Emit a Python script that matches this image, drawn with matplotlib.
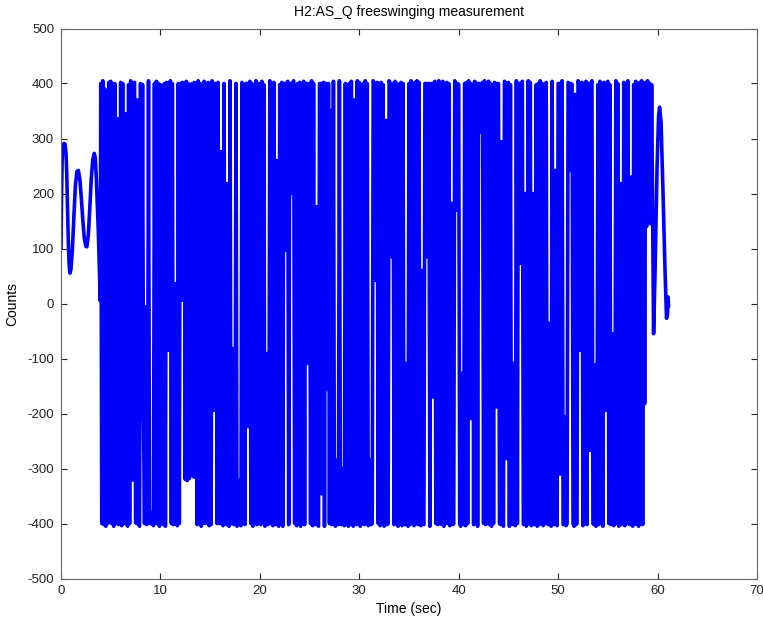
import matplotlib
matplotlib.use("Agg")
import matplotlib.pyplot as plt

plt.rcParams['path.simplify'] = False
plt.rcParams['axes.unicode_minus'] = False
plt.rcParams['font.family'] = ['Liberation Sans', 'DejaVu Sans']

# ---------------- data ----------------
title = "H2:AS_Q freeswinging measurement"
x_label = "Time (sec)"
y_label = "Counts"
x_ticks = [0, 10, 20, 30, 40, 50, 60, 70]
y_ticks = [-500, -400, -300, -200, -100, 0, 100, 200, 300, 400, 500]

# slow swinging before the fringes start (t < 4 s)
early_t = [0.0, 0.05, 0.12, 0.2, 0.3, 0.4, 0.5, 0.58, 0.66, 0.74,
           0.82, 0.9, 1.0, 1.15, 1.3, 1.45, 1.6, 1.75, 1.9, 2.05,
           2.2, 2.35, 2.5, 2.6, 2.75, 2.9, 3.05, 3.2, 3.35, 3.45,
           3.55, 3.65, 3.75, 3.85, 3.95]
early_v = [100, 190, 265, 288, 291, 290, 275, 235, 170, 110,
           70, 55, 62, 100, 160, 215, 240, 242, 225, 190,
           150, 118, 104, 103, 125, 175, 228, 262, 273, 265,
           230, 180, 133, 70, 5]

# dense fringe region: samples every 0.1 s starting at 4.0 s, one row per second
dense_start = 4.0
dense_step = 0.1
dense_04_09 = [
    [400, -400, 405, -402, 390, -405, 385, -400, 402, -398],
    [404, -400, 398, -405, 400, -400, -400, 336, -402, -400],
    [402, -404, 400, -400, -400, 345, -400, -405, 398, -400],
    [405, 400, -321, 400, 402, -398, -400, 370, -400, -405],
    [400, -209, 398, -209, -400, -6, -402, -400, 405, -400],
    [-400, -380, -400, -404, 400, -400, 404, -400, 400, -405],
]
dense_10_19 = [
    [398, -400, 385, -402, 400, -405, 402, 400, -85, 400],
    [405, -400, 400, -402, -400, 36, -400, -404, 400, -400],
    [400, 6, 402, 6, 400, -320, 404, -322, 400, -318],
    [398, -103, 400, -315, 402, -316, 400, -402, 405, -400],
    [400, -405, 398, -400, 404, -400, 400, -398, 402, -404],
    [400, -402, 405, 400, -194, 400, 398, -400, 402, -400],
    [-400, 276, -400, -404, 400, -400, -402, 218, -400, -405],
    [405, -400, -400, -82, -402, -400, 400, -405, -400, -321],
    [-400, -404, 402, -400, 398, -402, 400, 400, -224, 400],
    [404, -400, 400, -405, 395, -400, 405, -402, 400, -400],
]
dense_20_29 = [
    [400, -402, 404, -400, 398, -405, -400, -91, -402, -400],
    [405, -400, 400, -404, 402, -400, -402, 260, -400, -405],
    [398, -400, 402, -405, 400, 400, 97, 400, 404, -402],
    [400, 400, 200, 400, 405, -400, 398, -404, 400, -400],
    [402, -405, 400, -400, 404, -402, 400, 400, -109, 400],
    [398, -400, 405, -404, 400, -400, -402, 176, -400, -405],
    [400, 400, -346, 400, 402, -405, 400, 400, -155, 400],
    [-400, 351, -402, -400, 404, -400, -405, -285, -400, -402],
    [405, -400, -402, -300, -400, -404, 400, -400, 398, -405],
    [400, -402, 404, -400, -405, 370, -400, -402, 405, -400],
]
dense_30_39 = [
    [402, -405, 398, -400, 400, -402, 405, -400, 400, -404],
    [-400, -285, -402, -400, 405, 400, 42, 400, 402, -400],
    [400, -404, 402, -400, 398, -405, -400, 333, -402, -400],
    [405, 400, 85, 400, 400, -402, 404, -400, 400, -405],
    [398, -400, 402, -404, 400, -400, -402, -109, -400, -405],
    [400, -402, 405, -400, 398, -404, 402, -400, 405, -402],
    [402, -400, -404, 60, -400, -402, 400, 400, 85, 400],
    [400, -405, 398, 400, -170, 400, 404, -400, 400, -402],
    [405, -400, 400, -402, 404, -405, 398, -400, 402, -400],
    [400, -404, -400, 182, -402, -400, 405, 400, 170, 400],
]
dense_40_49 = [
    [398, -400, -405, -127, -400, -402, 400, -404, 402, -400],
    [405, -209, 400, -209, 398, -402, 404, -400, 400, -405],
    [400, 400, 312, 400, 402, -400, 405, -402, 398, -400],
    [404, -402, 400, -405, 398, -400, 402, 400, -188, 400],
    [400, -400, -402, 294, -400, -405, 404, 400, -282, 400],
    [402, -405, 398, -400, -402, -109, -400, -404, 405, -400],
    [400, 400, 73, 400, 404, -402, -400, 200, -405, -400],
    [405, -400, 402, -404, -400, 200, -402, -400, 398, -405],
    [400, -402, 405, -400, 400, -404, 398, -400, 402, -400],
    [-402, -36, -400, -405, 404, -400, -402, 242, -400, -404],
]
dense_50_58 = [
    [400, 400, -310, 400, 405, -402, -400, -206, -404, -400],
    [402, 400, 242, 400, 398, -400, -405, 380, -402, -400],
    [405, 400, -85, 400, 402, -404, 400, -400, 404, -402],
    [400, 400, -267, 400, 405, -400, -402, -112, -405, -400],
    [398, -402, 404, -400, 400, -405, 402, 400, -194, 400],
    [404, -400, 398, -402, -400, -55, -404, -400, 405, -400],
    [400, -405, -400, 218, -402, -400, 402, -404, 400, -400],
    [405, -400, -402, 230, -400, -405, 398, -400, 404, -402],
    [400, -405, 402, -400, 405, -402],
]

# fringes die out at the end (t > 58.5 s)
tail_t = [58.6, 58.7, 58.8, 58.9, 59.0, 59.1, 59.2, 59.3, 59.4, 59.6,
          59.75, 59.95, 60.1, 60.2, 60.35, 60.55, 60.75, 60.9, 61.0, 61.05,
          61.1]
tail_v = [400, -182, 402, 140, 405, 150, 400, 145, 398, -55,
          60, 250, 340, 357, 330, 200, 60, -27, -20, 12,
          -5]

# ---------------- assemble the series ----------------
dense_v = []
for block in (dense_04_09, dense_10_19, dense_20_29, dense_30_39,
              dense_40_49, dense_50_58):
    for row in block:
        dense_v.extend(row)
dense_t = [round(dense_start + dense_step * i, 3) for i in range(len(dense_v))]

t = list(early_t) + dense_t + list(tail_t)
v = list(early_v) + dense_v + list(tail_v)

# ---------------- plot ----------------
W, H = 763, 621
fig = plt.figure(figsize=(W / 100, H / 100), dpi=100)
ax = fig.add_axes([61 / W, 1 - 578.5 / H, (757 - 61) / W, (578.5 - 28.5) / H])
ax.plot(t, v, color='#0000ff', lw=2.6, solid_joinstyle='round',
        solid_capstyle='round')

ax.set_xlim(0, 70)
ax.set_ylim(-500, 500)
ax.set_xticks(x_ticks)
ax.set_yticks(y_ticks)
ax.tick_params(direction='in', top=True, right=True, length=4, width=0.8,
               labelsize=9.5, colors='#222222', pad=5)
for s in ax.spines.values():
    s.set_color('#666666')
    s.set_linewidth(0.8)

ax.set_title(title, fontsize=10, pad=9)
ax.set_xlabel(x_label, fontsize=10, labelpad=3)
ax.set_ylabel(y_label, fontsize=10, labelpad=6)

fig.savefig("out.png", dpi=100)
